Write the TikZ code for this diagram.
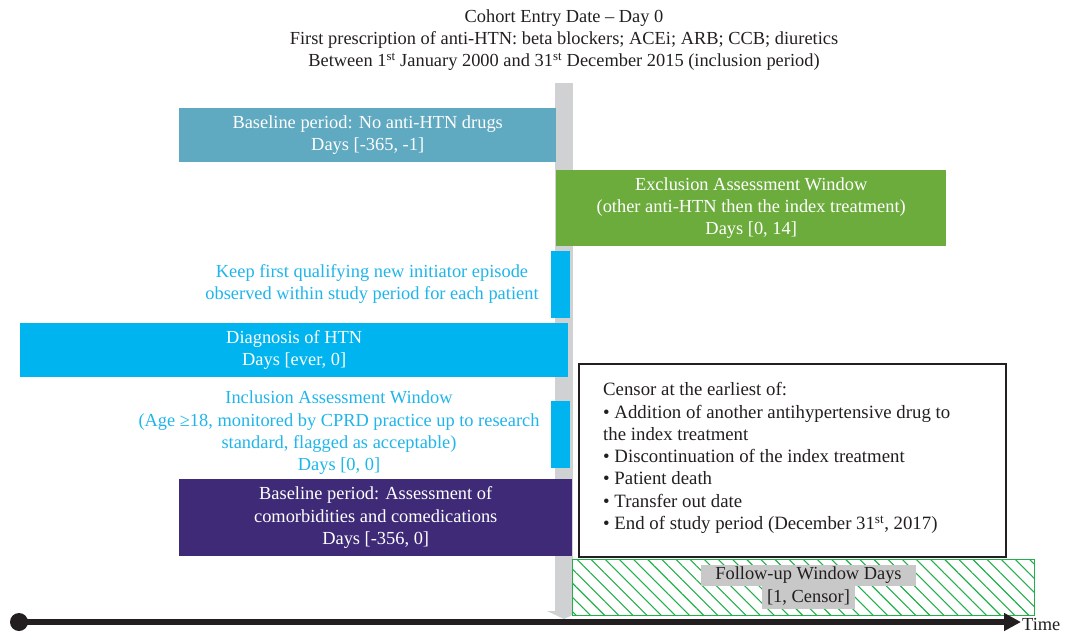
\documentclass[tikz,border=0pt]{standalone}
\usepackage{fontspec}
\setmainfont{Liberation Serif}
\usetikzlibrary{arrows.meta,patterns.meta}
\definecolor{tealbox}{HTML}{5FA9C1}
\definecolor{greenbox}{HTML}{6CAC3C}
\definecolor{cyanbox}{HTML}{00B4EF}
\definecolor{cyantext}{HTML}{1FB5EB}
\definecolor{purplebox}{HTML}{3E2A77}
\definecolor{graybar}{HTML}{D0D1D3}
\definecolor{hatchgreen}{HTML}{22B04B}
\definecolor{darkline}{HTML}{231F20}
\definecolor{labelgray}{HTML}{C8C8C8}
\tikzset{
  txt/.style={font=\fontsize{18.4}{22.3}\selectfont, inner sep=0pt},
  colbox/.style={txt, anchor=north west, text=white, align=center},
}
\begin{document}
\begin{tikzpicture}[x=1pt,y=-1pt]
\useasboundingbox (0,0) rectangle (1068,633);
% gray vertical day-0 arrow
\fill[graybar] (555,83) rectangle (573,611);
\fill[graybar] (547,611) -- (581,611) -- (564,619) -- cycle;
% title
\node[txt, align=center, text=darkline] (title) at (564,40) {Cohort Entry Date – Day 0\\First prescription of anti-HTN: beta blockers; ACEi; ARB; CCB; diuretics\\Between 1\textsuperscript{st} January 2000 and 31\textsuperscript{st} December 2015 (inclusion period)};
% baseline
\node[colbox, fill=tealbox, minimum width=377pt, minimum height=54pt] (base) at (179,108) {Baseline period: No anti-HTN drugs\\Days [-365, -1]};
% exclusion
\node[colbox, fill=greenbox, minimum width=390pt, minimum height=76pt] (excl) at (556,170) {Exclusion Assessment Window\\(other anti-HTN then the index treatment)\\Days [0, 14]};
% keep first
\node[colbox, fill=cyanbox, minimum width=19pt, minimum height=67pt] (keepbar) at (551,251) {};
\node[txt, text=cyantext, align=center] (keep) at (372,284) {Keep first qualifying new initiator episode\\observed within study period for each patient};
% diagnosis
\node[colbox, fill=cyanbox, minimum width=548pt, minimum height=54pt] (diag) at (20,323) {Diagnosis of HTN\\Days [ever, 0]};
% inclusion
\node[colbox, fill=cyanbox, minimum width=19pt, minimum height=67pt] (inclbar) at (551,401) {};
\node[txt, text=cyantext, align=center] (incl) at (339,433) {Inclusion Assessment Window\\(Age ≥18, monitored by CPRD practice up to research\\standard, flagged as acceptable)\\Days [0, 0]};
% purple baseline
\node[colbox, fill=purplebox, minimum width=393pt, minimum height=77pt] (comorb) at (179,479) {Baseline period: Assessment of\\comorbidities and comedications\\Days [-356, 0]};
% censor box
\node[txt, draw=darkline, line width=2pt, fill=white, anchor=north west, minimum width=427pt, minimum height=193pt] (censorbox) at (578,363) {};
\node[txt, align=left, anchor=west, text=darkline, font=\fontsize{18.8}{22.3}\selectfont] (censor) at (603,458) {Censor at the earliest of:\\• Addition of another antihypertensive drug to\\the index treatment\\• Discontinuation of the index treatment\\• Patient death\\• Transfer out date\\• End of study period (December 31\textsuperscript{st}, 2017)};
% follow-up window
\node[txt, anchor=north west, draw=hatchgreen, line width=1.2pt, fill=white, minimum width=462pt, minimum height=56pt,
  postaction={pattern={Lines[angle=-45,distance=10pt,line width=1.1pt]}, pattern color=hatchgreen}] (follow) at (572,559) {};
\node[txt, fill=labelgray, minimum width=215pt, minimum height=21pt, text=darkline] (fl1) at (808.5,575.5) {Follow-up Window Days};
\node[txt, fill=labelgray, minimum width=93pt, minimum height=23pt, text=darkline] (fl2) at (808.5,597.5) {[1, Censor]};
% timeline
\coordinate (tstart) at (19,622);
\coordinate (tend) at (1021,622);
\fill[darkline] (tstart) circle (9pt);
\draw[darkline, line width=6pt, -{Triangle[length=17pt,width=17pt]}] (tstart) -- (tend);
\node[txt, anchor=west, text=darkline] (time) at (1022,624) {Time};
\end{tikzpicture}
\end{document}
